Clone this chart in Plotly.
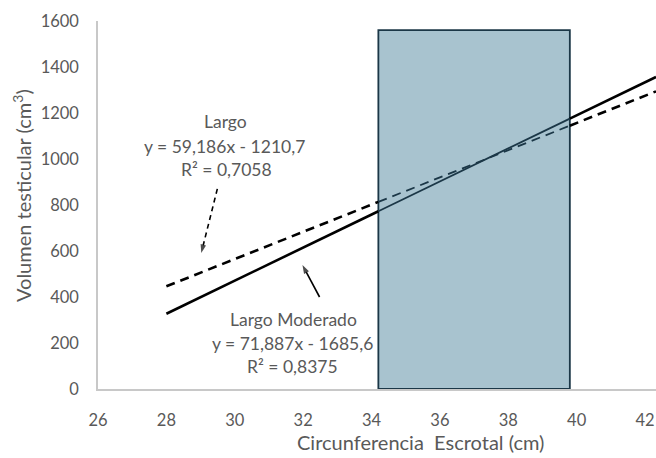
import plotly.graph_objects as go

# Regression fits: volumen testicular vs circunferencia escrotal
x_start = 28.0
x_end = 42.32
x_range = [26, 42.32]
y_range = [0, 1600]
x_ticks = [26, 28, 30, 32, 34, 36, 38, 40, 42]
y_ticks = [0, 200, 400, 600, 800, 1000, 1200, 1400, 1600]

largo_slope, largo_icpt = 59.186, -1210.7
moderado_slope, moderado_icpt = 71.887, -1685.6

# Highlighted range of scrotal circumference
band_x = [34.2, 39.8]
band_top = 1560

# Arrow pointers (tail -> head) in data units
largo_arrow_x = [29.49, 29.02]
largo_arrow_y = [870, 591]
moderado_arrow_x = [32.48, 31.98]
moderado_arrow_y = [400, 539]

FONT = "Lato"
GRAY = "#595959"
BAND_FILL = "#A8C3CF"
BAND_EDGE = "#1B3747"

W, H = 656, 458
L, R, T, B = 98, 0, 21, 69
PW, PH = W - L - R, H - T - B


def fit(slope, icpt, xs):
    return [slope * x + icpt for x in xs]


def segments(slope, icpt, dash):
    # Outside the band the fit is black; inside it reads as dark teal
    pieces = [
        ([x_start, band_x[0]], "black", 2.6),
        ([band_x[0], band_x[1]], BAND_EDGE, 1.8),
        ([band_x[1], x_end], "black", 2.6),
    ]
    out = []
    for xs, color, width in pieces:
        out.append(go.Scatter(
            x=xs, y=fit(slope, icpt, xs), mode="lines",
            line=dict(color=color, width=width, dash=dash),
            hoverinfo="skip", showlegend=False, cliponaxis=True,
        ))
    return out


fig = go.Figure()
for tr in segments(largo_slope, largo_icpt, "9px,6px"):
    fig.add_trace(tr)
for tr in segments(moderado_slope, moderado_icpt, "solid"):
    fig.add_trace(tr)


def arrow(xs, ys, dash):
    return go.Scatter(
        x=xs, y=ys, mode="lines+markers",
        line=dict(color="black", width=1.6, dash=dash),
        marker=dict(symbol=["circle", "arrow"], size=[0, 9], color="black",
                    angleref="previous", line=dict(width=0)),
        hoverinfo="skip", showlegend=False,
    )


fig.add_trace(arrow(largo_arrow_x, largo_arrow_y, "5px,4px"))
fig.add_trace(arrow(moderado_arrow_x, moderado_arrow_y, "solid"))

fig.add_shape(type="rect", xref="x", yref="y",
              x0=band_x[0], x1=band_x[1], y0=0, y1=band_top,
              fillcolor=BAND_FILL, line=dict(color=BAND_EDGE, width=1.8),
              layer="below")


def px_to_paper(px, py):
    return (px - L) / PW, (H - B - py) / PH


labels = [
    ("Largo", 225, 121),
    ("y = 59,186x - 1210,7", 224, 146),
    ("R² = 0,7058", 226, 169),
    ("Largo Moderado", 293, 319),
    ("y = 71,887x - 1685,6", 292, 343),
    ("R² = 0,8375", 292, 366),
]
for text, px, py in labels:
    ax_, ay_ = px_to_paper(px, py)
    fig.add_annotation(text=text, x=ax_, y=ay_, xref="paper", yref="paper",
                       showarrow=False, xanchor="center", yanchor="middle",
                       font=dict(family=FONT, size=17.5, color=GRAY))

# Axis titles
tx, ty = px_to_paper(420, 442)
fig.add_annotation(text="Circunferencia  Escrotal (cm)", x=tx, y=ty,
                   xref="paper", yref="paper", showarrow=False,
                   xanchor="center", yanchor="middle",
                   font=dict(family=FONT, size=20, color=GRAY))
tx, ty = px_to_paper(22, 196)
fig.add_annotation(text="Volumen testicular (cm<sup>3</sup>)", x=tx, y=ty,
                   xref="paper", yref="paper", showarrow=False, textangle=-90,
                   xanchor="center", yanchor="middle",
                   font=dict(family=FONT, size=20, color=GRAY))

fig.update_layout(
    width=W, height=H,
    margin=dict(l=L, r=R, t=T, b=B),
    paper_bgcolor="white", plot_bgcolor="white",
    font=dict(family=FONT, size=16.5, color=GRAY),
    xaxis=dict(range=x_range, tickvals=x_ticks, ticktext=[str(v) for v in x_ticks],
               showgrid=False, zeroline=False, showline=True, linecolor="#C8C8C8",
               linewidth=1.5, ticks="", ticklabelstandoff=15,
               tickfont=dict(family=FONT, size=16.5, color=GRAY)),
    yaxis=dict(range=y_range, tickvals=y_ticks, ticktext=[str(v) for v in y_ticks],
               showgrid=False, zeroline=False, showline=True, linecolor="#C8C8C8",
               linewidth=1.5, ticks="", ticklabelstandoff=14,
               tickfont=dict(family=FONT, size=16.5, color=GRAY)),
)

fig.write_html("out.html")
